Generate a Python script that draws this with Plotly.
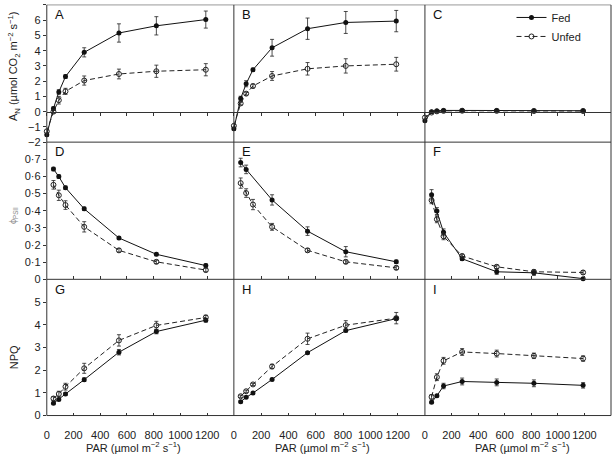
import plotly.graph_objects as go

# PAR levels (umol m-2 s-1)
par_light = [0, 50, 90, 140, 280, 540, 820, 1190]
par = [50, 90, 140, 280, 540, 820, 1190]

# Net assimilation (A-C)
an_fed_a = [-1.51, 0.21, 1.29, 2.30, 3.89, 5.16, 5.63, 6.04]
an_fed_a_err = [0.1, 0.1, 0.15, 0.12, 0.3, 0.6, 0.6, 0.56]
an_unfed_a = [-1.29, 0.0, 0.75, 1.33, 2.04, 2.47, 2.65, 2.75]
an_unfed_a_err = [0.1, 0.1, 0.25, 0.2, 0.3, 0.32, 0.4, 0.4]
an_fed_b = [-1.12, 0.86, 1.83, 2.75, 4.19, 5.44, 5.85, 5.94]
an_fed_b_err = [0.1, 0.15, 0.2, 0.1, 0.55, 0.7, 0.72, 0.7]
an_unfed_b = [-0.93, 0.54, 1.18, 1.68, 2.34, 2.81, 3.0, 3.11]
an_unfed_b_err = [0.1, 0.1, 0.1, 0.12, 0.29, 0.41, 0.47, 0.45]
an_fed_c = [-0.6, 0.0, 0.05, 0.08, 0.08, 0.08, 0.06, 0.06]
an_fed_c_err = [0.05, 0.05, 0.03, 0.03, 0.03, 0.03, 0.03, 0.03]
an_unfed_c = [-0.39, -0.06, 0.02, 0.05, 0.06, 0.05, 0.04, 0.04]
an_unfed_c_err = [0.05, 0.05, 0.03, 0.03, 0.03, 0.03, 0.03, 0.03]

# PSII efficiency (D-F)
phi_fed_d = [0.643, 0.599, 0.534, 0.411, 0.241, 0.146, 0.080]
phi_fed_d_err = [0.01, 0.01, 0.01, 0.01, 0.008, 0.008, 0.01]
phi_unfed_d = [0.551, 0.490, 0.433, 0.306, 0.169, 0.102, 0.054]
phi_unfed_d_err = [0.025, 0.03, 0.025, 0.03, 0.01, 0.01, 0.01]
phi_fed_e = [0.681, 0.641, None, 0.463, 0.281, 0.161, 0.102]
phi_fed_e_err = [0.025, 0.025, 0, 0.03, 0.025, 0.03, 0.01]
phi_unfed_e = [0.561, 0.503, 0.436, 0.306, 0.169, 0.102, 0.067]
phi_unfed_e_err = [0.03, 0.025, 0.03, 0.02, 0.01, 0.01, 0.01]
phi_fed_f = [0.493, 0.398, 0.274, 0.120, 0.044, 0.038, 0.004]
phi_fed_f_err = [0.03, 0.02, 0.02, 0.01, 0.015, 0.015, 0.005]
phi_unfed_f = [0.461, 0.350, 0.251, 0.136, 0.073, 0.044, 0.040]
phi_unfed_f_err = [0.02, 0.02, 0.02, 0.01, 0.01, 0.01, 0.01]

# NPQ (G-I)
npq_fed_g = [0.54, 0.71, 0.95, 1.58, 2.79, 3.70, 4.20]
npq_fed_g_err = [0.05, 0.05, 0.06, 0.08, 0.12, 0.1, 0.08]
npq_unfed_g = [0.75, 0.95, 1.27, 2.08, 3.31, 3.97, 4.32]
npq_unfed_g_err = [0.08, 0.12, 0.15, 0.22, 0.25, 0.18, 0.1]
npq_fed_h = [0.61, 0.80, 0.99, 1.59, 2.77, 3.74, 4.27]
npq_fed_h_err = [0.04, 0.04, 0.04, 0.05, 0.05, 0.06, 0.08]
npq_unfed_h = [0.85, 1.07, 1.37, 2.16, 3.38, 3.98, 4.29]
npq_unfed_h_err = [0.05, 0.05, 0.05, 0.1, 0.25, 0.2, 0.25]
npq_fed_i = [0.58, 0.87, 1.30, 1.50, 1.46, 1.42, 1.33]
npq_fed_i_err = [0.05, 0.05, 0.12, 0.15, 0.15, 0.15, 0.12]
npq_unfed_i = [0.82, 1.69, 2.41, 2.80, 2.73, 2.63, 2.51]
npq_unfed_i_err = [0.1, 0.15, 0.15, 0.15, 0.15, 0.12, 0.12]

panels = [
    ('A', par_light, an_fed_a, an_fed_a_err, an_unfed_a, an_unfed_a_err),
    ('B', par_light, an_fed_b, an_fed_b_err, an_unfed_b, an_unfed_b_err),
    ('C', par_light, an_fed_c, an_fed_c_err, an_unfed_c, an_unfed_c_err),
    ('D', par, phi_fed_d, phi_fed_d_err, phi_unfed_d, phi_unfed_d_err),
    ('E', par, phi_fed_e, phi_fed_e_err, phi_unfed_e, phi_unfed_e_err),
    ('F', par, phi_fed_f, phi_fed_f_err, phi_unfed_f, phi_unfed_f_err),
    ('G', par, npq_fed_g, npq_fed_g_err, npq_unfed_g, npq_unfed_g_err),
    ('H', par, npq_fed_h, npq_fed_h_err, npq_unfed_h, npq_unfed_h_err),
    ('I', par, npq_fed_i, npq_fed_i_err, npq_unfed_i, npq_unfed_i_err),
]

W, H = 613, 462
FONT = 'Liberation Sans, Arial, sans-serif'
col_px = [44, 232, 424, 611]
row_px = [5, 144, 283, 421]
y_ranges = [[-2, 7], [0, 0.8], [0, 6]]
y_ticks = [list(range(-2, 8)), [0, 0.1, 0.2, 0.3, 0.4, 0.5, 0.6, 0.7],
           list(range(0, 6))]
y_text = [[str(v).replace('-', '\u2212') for v in y_ticks[0]],
          ['0'] + ['0\u00b7%d' % k for k in range(1, 8)],
          [str(v) for v in y_ticks[2]]]


def px_x(p):
    return p / W


def px_y(p):
    return 1 - p / H


def label(text, x, y, size=11, color='#222', angle=0, xanchor='center'):
    fig.add_annotation(x=px_x(x), y=px_y(y), xref='paper', yref='paper',
                       text=text, textangle=angle, showarrow=False,
                       xanchor=xanchor, yanchor='middle',
                       font=dict(family=FONT, size=size, color=color))


fig = go.Figure()
layout = {}
for i, (letter, xs, fed, fed_err, unfed, unfed_err) in enumerate(panels):
    row, col = divmod(i, 3)
    n = '' if i == 0 else str(i + 1)
    xdom = [px_x(col_px[col]), px_x(col_px[col + 1])]
    ydom = [px_y(row_px[row + 1]), px_y(row_px[row])]
    show = i == 2
    fig.add_trace(go.Scatter(
        x=xs, y=fed, name='Fed', mode='lines+markers',
        xaxis='x' + n, yaxis='y' + n, showlegend=show,
        connectgaps=True, cliponaxis=False,
        line=dict(color='#111', width=1),
        marker=dict(symbol='circle', size=5, color='#111'),
        error_y=dict(type='data', array=fed_err, color='#222',
                     thickness=0.8, width=2)))
    fig.add_trace(go.Scatter(
        x=xs, y=unfed, name='Unfed', mode='lines+markers',
        xaxis='x' + n, yaxis='y' + n, showlegend=show,
        cliponaxis=False,
        line=dict(color='#222', width=1, dash='5px,3px'),
        marker=dict(symbol='circle-open', size=5, color='#222',
                    line=dict(width=1)),
        error_y=dict(type='data', array=unfed_err, color='#222',
                     thickness=0.8, width=2)))

    xa = dict(domain=xdom, range=[0, 1400], tickvals=list(range(0, 1400, 200)),
              ticklen=3, tickcolor='#333', showgrid=False, zeroline=False,
              showticklabels=row == 2, ticklabelstandoff=11,
              tickfont=dict(family=FONT, size=11, color='#222'))
    if row == 0:
        zero_pos = ydom[0] + (ydom[1] - ydom[0]) * 2 / 9
        xa.update(anchor='free', position=zero_pos, ticks='outside',
                  showline=True, linecolor='#333', linewidth=1)
    else:
        xa.update(anchor='y' + n, ticks='inside', showline=False)
    ya = dict(domain=ydom, range=y_ranges[row], anchor='x' + n,
              showgrid=False, zeroline=False, showline=False,
              tickvals=y_ticks[row], ticktext=y_text[row],
              ticks='outside' if col == 0 else '', ticklen=3,
              tickcolor='#333', showticklabels=col == 0,
              tickfont=dict(family=FONT, size=11, color='#222'))
    layout['xaxis' + n] = xa
    layout['yaxis' + n] = ya

    label(letter, col_px[col] + 6, row_px[row] + 10, size=13, color='#111',
          xanchor='left')

# frame lines around the panels
shapes = []
for k, yp in enumerate(row_px):
    shapes.append(dict(type='line', xref='paper', yref='paper',
                       x0=px_x(col_px[0]), x1=px_x(col_px[-1]),
                       y0=px_y(yp), y1=px_y(yp),
                       line=dict(color='#999' if k == 0 else '#333',
                                 width=1)))
for xp in col_px:
    shapes.append(dict(type='line', xref='paper', yref='paper',
                       x0=px_x(xp), x1=px_x(xp),
                       y0=px_y(row_px[0]), y1=px_y(row_px[-1]),
                       line=dict(color='#333', width=1)))

par_title = 'PAR (\u00b5mol m<sup>\u22122</sup> s<sup>\u22121</sup>)'
for xc in [131, 321, 522]:
    label(par_title, xc, 453)

label('A<sub>N</sub> (\u00b5mol CO<sub>2</sub> m<sup>\u22122</sup> '
      's<sup>\u22121</sup>)', 11, 67, angle=-90)
label('\u03d5<sub>PSII</sub>', 10, 218, size=9, color='#888', angle=-90)
label('NPQ', 11, 362, angle=-90)

fig.update_layout(
    width=W, height=H, margin=dict(l=0, r=0, t=0, b=0),
    paper_bgcolor='white', plot_bgcolor='white',
    shapes=shapes,
    legend=dict(x=px_x(511), y=px_y(3), xanchor='left', yanchor='top',
                bgcolor='rgba(0,0,0,0)', itemwidth=30, tracegroupgap=0,
                font=dict(family=FONT, size=11, color='#222')),
    **layout)

# the default page has an 8px body margin; drop it so the chart sits at 0,0
fig.write_html('out.html', config={'displayModeBar': False},
               post_script="document.body.style.margin='0';")
